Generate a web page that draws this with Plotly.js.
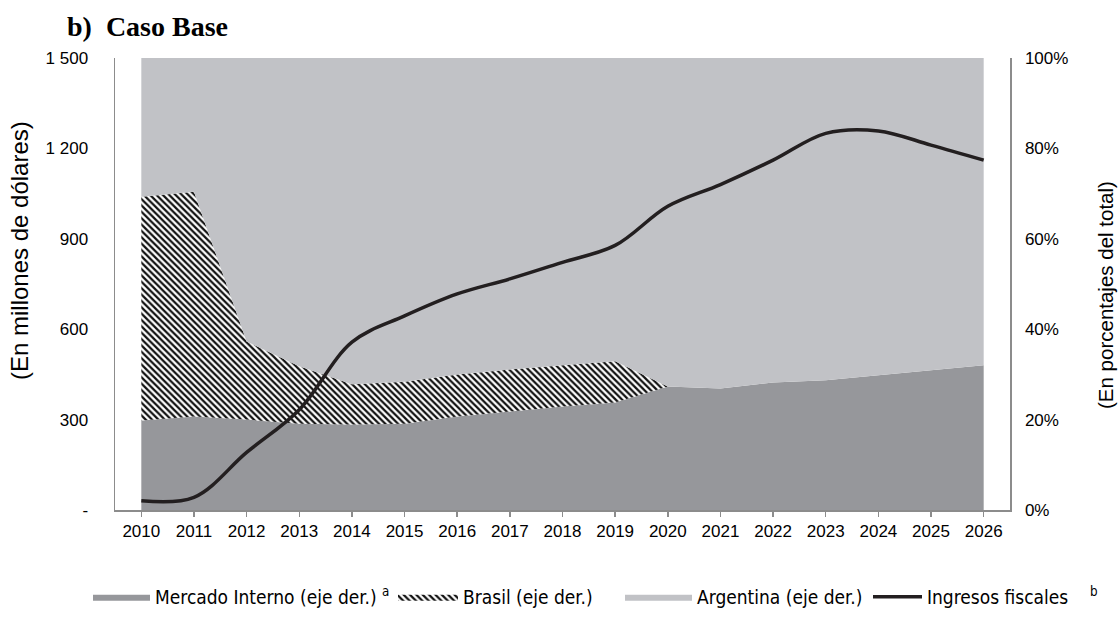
<!DOCTYPE html>
<html>
<head>
<meta charset="utf-8">
<script src="https://cdn.plot.ly/plotly-3.0.1.min.js"></script>
<style>html,body{margin:0;padding:0;background:#fff;}#chart{width:1118px;height:628px;}</style>
</head>
<body>
<div id="chart"></div>
<script>
// Years (x categories)
var years = [2010, 2011, 2012, 2013, 2014, 2015, 2016, 2017, 2018, 2019, 2020, 2021, 2022, 2023, 2024, 2025, 2026];
// Shares in % of total (right axis)
var mercadoInterno = [19.8, 20.7, 20.0, 19.1, 18.9, 19.1, 20.7, 21.8, 22.9, 23.8, 27.3, 26.9, 28.2, 28.7, 29.8, 30.9, 32.0];
var brasil = [49.5, 49.7, 17.3, 12.7, 8.9, 9.3, 9.3, 9.3, 9.1, 9.1, 0, 0, 0, 0, 0, 0, 0];
var argentina = [30.7, 29.6, 62.7, 68.2, 72.2, 71.6, 70.0, 68.9, 68.0, 67.1, 72.7, 73.1, 71.8, 71.3, 70.2, 69.1, 68.0];
// Fiscal revenue, millions of dollars (left axis)
var ingresosFiscales = [31, 42, 191, 333, 557, 644, 717, 767, 822, 878, 1008, 1080, 1161, 1250, 1258, 1211, 1161];
// Tick labels
var leftTickVals = [0, 300, 600, 900, 1200, 1500];
var leftTickText = ['-', '300', '600', '900', '1 200', '1 500'];
var rightTickVals = [0, 20, 40, 60, 80, 100];
var rightTickText = ['0%', '20%', '40%', '60%', '80%', '100%'];

var NB = '\u00a0';
var legendFont = 'DejaVu Sans Condensed, Liberation Sans Narrow, Arial Narrow, sans-serif';
var baseFont = 'Liberation Sans, Arial, sans-serif';

var traces = [
  {
    x: years, y: mercadoInterno, type: 'scatter', mode: 'lines',
    name: 'Mercado Interno (eje der.)' + NB + '<sup>a</sup>',
    stackgroup: 'one', yaxis: 'y', legend: 'legend',
    line: {width: 0, color: '#96979b'}, fillcolor: '#96979b'
  },
  {
    x: years, y: brasil, type: 'scatter', mode: 'lines',
    name: 'Brasil (eje der.)',
    stackgroup: 'one', yaxis: 'y', legend: 'legend2',
    line: {width: 0, color: '#000000'}, fillcolor: '#ffffff',
    fillpattern: {shape: '\\', fgcolor: '#111111', bgcolor: '#ffffff', size: 4.5, solidity: 0.5}
  },
  {
    x: years, y: argentina, type: 'scatter', mode: 'lines',
    name: 'Argentina (eje der.)',
    stackgroup: 'one', yaxis: 'y', legend: 'legend3',
    line: {width: 0, color: '#c1c2c6'}, fillcolor: '#c1c2c6'
  },
  {
    x: years, y: ingresosFiscales, type: 'scatter', mode: 'lines',
    name: 'Ingresos fiscales' + NB + NB + NB + NB + '<sup>b</sup>',
    yaxis: 'y2', legend: 'legend4',
    line: {width: 3.5, color: '#231f20', shape: 'spline', smoothing: 1}
  }
];

function legendAt(px, w) {
  return {
    orientation: 'h', traceorder: 'normal',
    x: (px - 115) / 895, xanchor: 'left', xref: 'paper',
    y: -(597 - 510) / 452, yanchor: 'middle', yref: 'paper',
    font: {family: legendFont, size: 19, color: '#000000'},
    itemwidth: w, bgcolor: 'rgba(0,0,0,0)'
  };
}

var layout = {
  width: 1118, height: 628,
  paper_bgcolor: '#ffffff', plot_bgcolor: '#ffffff',
  margin: {l: 115, r: 108, t: 58, b: 118},
  font: {family: baseFont, color: '#000000', size: 17},
  title: {
    text: '<b>b)  Caso Base</b>',
    font: {family: 'Liberation Serif, Times New Roman, serif', size: 28, color: '#000000'},
    x: 67 / 1118, xanchor: 'left', xref: 'container',
    y: 1 - 26 / 628, yanchor: 'middle', yref: 'container'
  },
  xaxis: {
    range: [2009.5, 2026.5],
    tickvals: years, ticktext: years.map(String),
    ticks: 'outside', ticklen: 5, tickwidth: 1.5, tickcolor: '#8c8c8c',
    showline: true, linecolor: '#8c8c8c', linewidth: 1.5,
    showgrid: false, zeroline: false,
    tickfont: {family: baseFont, size: 17, color: '#000000'}
  },
  yaxis: {
    side: 'right', range: [0, 100],
    tickvals: rightTickVals, ticktext: rightTickText,
    showline: true, linecolor: '#8c8c8c', linewidth: 1.5,
    showgrid: false, zeroline: false, ticks: '',
    ticklabelstandoff: 10,
    tickfont: {family: baseFont, size: 17, color: '#000000'}
  },
  yaxis2: {
    overlaying: 'y', side: 'left', range: [0, 1500],
    tickvals: leftTickVals, ticktext: leftTickText,
    showline: true, linecolor: '#8c8c8c', linewidth: 1.5,
    showgrid: false, zeroline: false, ticks: '',
    ticklabelstandoff: 22,
    tickfont: {family: baseFont, size: 17, color: '#000000'}
  },
  annotations: [
    {
      text: '(En millones de dólares)', textangle: -90, showarrow: false,
      xref: 'paper', yref: 'paper',
      x: (19 - 115) / 895, y: (510 - 251) / 452,
      xanchor: 'center', yanchor: 'middle',
      font: {family: baseFont, size: 24, color: '#000000'}
    },
    {
      text: '(En porcentajes del total)', textangle: -90, showarrow: false,
      xref: 'paper', yref: 'paper',
      x: (1105 - 115) / 895, y: (510 - 295) / 452,
      xanchor: 'center', yanchor: 'middle',
      font: {family: baseFont, size: 20.5, color: '#000000'}
    }
  ],
  showlegend: true,
  legend: legendAt(88, 57),
  legend2: legendAt(393, 60),
  legend3: legendAt(620, 67),
  legend4: legendAt(868, 49)
};

Plotly.newPlot('chart', traces, layout, {displayModeBar: false, staticPlot: true});
</script>
</body>
</html>
